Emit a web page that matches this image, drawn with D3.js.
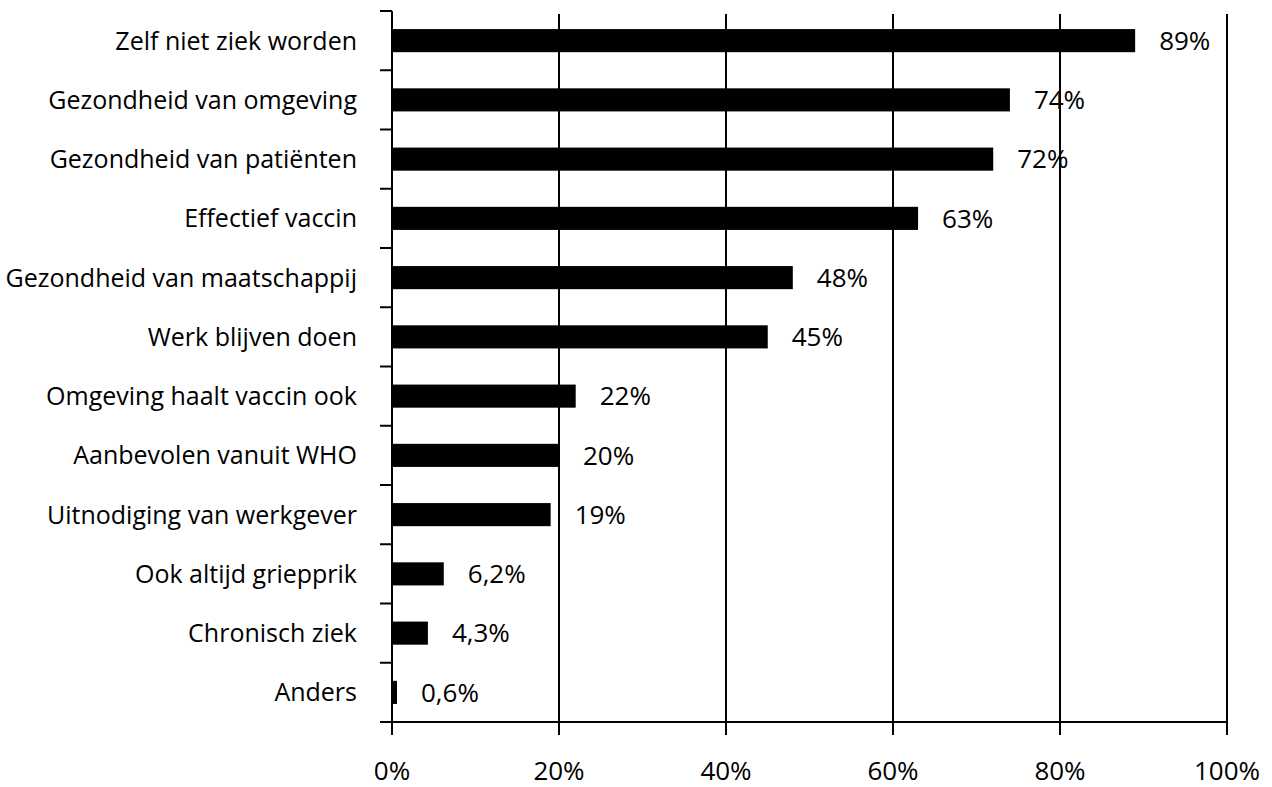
<!DOCTYPE html>
<html>
<head>
<meta charset="utf-8">
<script src="https://cdn.jsdelivr.net/npm/d3@7"></script>
<style>
  html, body { margin: 0; padding: 0; background: #fff; }
  svg { display: block; }
  text { font-family: "Open Sans", "Noto Sans", sans-serif; fill: #000; }
</style>
</head>
<body>
<svg id="chart" width="1272" height="787"></svg>
<script>
// Redenen om het vaccin te halen (percentage respondenten)
const categories = [
  "Zelf niet ziek worden",
  "Gezondheid van omgeving",
  "Gezondheid van patiënten",
  "Effectief vaccin",
  "Gezondheid van maatschappij",
  "Werk blijven doen",
  "Omgeving haalt vaccin ook",
  "Aanbevolen vanuit WHO",
  "Uitnodiging van werkgever",
  "Ook altijd griepprik",
  "Chronisch ziek",
  "Anders"
];
const values = [89, 74, 72, 63, 48, 45, 22, 20, 19, 6.2, 4.3, 0.6];
const valueLabels = ["89%", "74%", "72%", "63%", "48%", "45%", "22%", "20%", "19%", "6,2%", "4,3%", "0,6%"];
const xTicks = [0, 20, 40, 60, 80, 100];
const xTickLabels = ["0%", "20%", "40%", "60%", "80%", "100%"];

const svg = d3.select("#chart");
const plotLeft = 392, plotRight = 1227, plotTop = 11, plotBottom = 722;

const x = d3.scaleLinear().domain([0, 100]).range([plotLeft, plotRight]);
const y = d3.scaleBand().domain(categories).range([plotTop, plotBottom])
  .paddingInner(0.61).paddingOuter(0.305);
const step = y.step();

// verticale rasterlijnen
svg.append("g").selectAll("line")
  .data(xTicks.filter(d => d > 0))
  .join("line")
  .attr("x1", d => x(d)).attr("x2", d => x(d))
  .attr("y1", plotTop + 3).attr("y2", plotBottom)
  .attr("stroke", "#000").attr("stroke-width", 2);

// balken
svg.append("g").selectAll("rect")
  .data(values)
  .join("rect")
  .attr("x", x(0))
  .attr("y", (d, i) => y(categories[i]))
  .attr("width", d => x(d) - x(0))
  .attr("height", y.bandwidth())
  .attr("fill", "#000");

// waardelabels
svg.append("g").selectAll("text")
  .data(values)
  .join("text")
  .attr("x", d => x(d) + 24)
  .attr("y", (d, i) => y(categories[i]) + y.bandwidth() / 2)
  .attr("dy", "0.36em")
  .attr("font-size", 26)
  .text((d, i) => valueLabels[i]);

// y-as met streepjes tussen de categorieën
const yAxis = svg.append("g");
yAxis.append("line")
  .attr("x1", plotLeft).attr("x2", plotLeft)
  .attr("y1", plotTop).attr("y2", plotBottom)
  .attr("stroke", "#000").attr("stroke-width", 2);
yAxis.selectAll("line.tick")
  .data(d3.range(categories.length + 1))
  .join("line")
  .attr("class", "tick")
  .attr("x1", plotLeft - 12).attr("x2", plotLeft)
  .attr("y1", i => plotTop + i * step).attr("y2", i => plotTop + i * step)
  .attr("stroke", "#000").attr("stroke-width", 2);
yAxis.selectAll("text")
  .data(categories)
  .join("text")
  .attr("x", plotLeft - 35)
  .attr("y", d => y(d) + y.bandwidth() / 2)
  .attr("dy", "0.36em")
  .attr("text-anchor", "end")
  .attr("font-size", 25)
  .text(d => d);

// x-as
const xAxis = svg.append("g");
xAxis.append("line")
  .attr("x1", plotLeft - 12).attr("x2", plotRight)
  .attr("y1", plotBottom).attr("y2", plotBottom)
  .attr("stroke", "#000").attr("stroke-width", 2);
xAxis.selectAll("line.tick")
  .data(xTicks)
  .join("line")
  .attr("class", "tick")
  .attr("x1", d => x(d)).attr("x2", d => x(d))
  .attr("y1", plotBottom).attr("y2", plotBottom + 13)
  .attr("stroke", "#000").attr("stroke-width", 2);
xAxis.selectAll("text")
  .data(xTicks)
  .join("text")
  .attr("x", d => x(d))
  .attr("y", 780)
  .attr("text-anchor", "middle")
  .attr("font-size", 26)
  .text((d, i) => xTickLabels[i]);
</script>
</body>
</html>
